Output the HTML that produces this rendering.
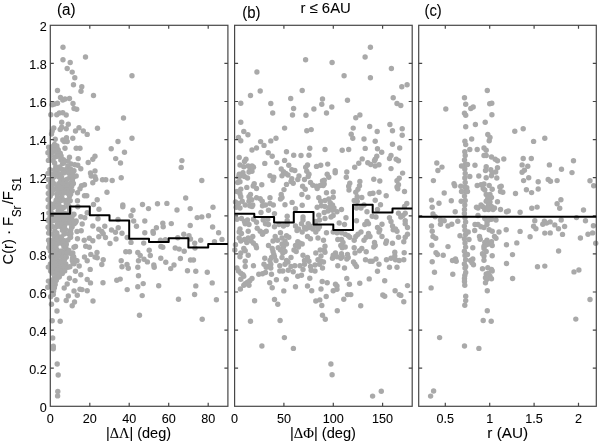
<!DOCTYPE html><html><head><meta charset="utf-8"><style>html,body{margin:0;padding:0;background:#fff;overflow:hidden;}svg{display:block;will-change:transform;}text{font-family:"Liberation Sans",sans-serif;fill:#000;stroke:#000;stroke-width:0.08px;}</style></head><body>
<svg width="600" height="443" viewBox="0 0 600 443">
<g fill="#a9a9a9">
<circle cx="63.0" cy="47.2" r="2.70"/>
<circle cx="63.0" cy="59.8" r="2.70"/>
<circle cx="85.5" cy="57.0" r="2.70"/>
<circle cx="70.2" cy="62.5" r="2.70"/>
<circle cx="67.2" cy="68.5" r="2.70"/>
<circle cx="72.2" cy="72.1" r="2.70"/>
<circle cx="74.8" cy="77.8" r="2.70"/>
<circle cx="132.0" cy="75.7" r="2.70"/>
<circle cx="73.5" cy="84.8" r="2.70"/>
<circle cx="81.8" cy="86.8" r="2.70"/>
<circle cx="57.5" cy="90.5" r="2.70"/>
<circle cx="81.0" cy="91.2" r="2.70"/>
<circle cx="93.5" cy="95.5" r="2.70"/>
<circle cx="60.5" cy="97.5" r="2.70"/>
<circle cx="65.0" cy="99.0" r="2.70"/>
<circle cx="69.5" cy="98.5" r="2.70"/>
<circle cx="62.8" cy="100.0" r="2.70"/>
<circle cx="52.2" cy="104.8" r="2.70"/>
<circle cx="54.5" cy="104.0" r="2.70"/>
<circle cx="57.5" cy="103.2" r="2.70"/>
<circle cx="73.0" cy="103.5" r="2.70"/>
<circle cx="74.0" cy="108.5" r="2.70"/>
<circle cx="76.7" cy="109.2" r="2.70"/>
<circle cx="50.8" cy="114.8" r="2.70"/>
<circle cx="56.8" cy="114.8" r="2.70"/>
<circle cx="59.3" cy="113.0" r="2.70"/>
<circle cx="62.8" cy="112.7" r="2.70"/>
<circle cx="66.2" cy="115.0" r="2.70"/>
<circle cx="123.5" cy="118.0" r="2.70"/>
<circle cx="61.7" cy="122.3" r="2.70"/>
<circle cx="68.3" cy="124.2" r="2.70"/>
<circle cx="53.8" cy="128.0" r="2.70"/>
<circle cx="52.2" cy="131.0" r="2.70"/>
<circle cx="51.5" cy="134.0" r="2.70"/>
<circle cx="60.2" cy="129.5" r="2.70"/>
<circle cx="61.7" cy="127.2" r="2.70"/>
<circle cx="66.2" cy="128.8" r="2.70"/>
<circle cx="79.0" cy="127.7" r="2.70"/>
<circle cx="75.5" cy="131.0" r="2.70"/>
<circle cx="83.3" cy="131.0" r="2.70"/>
<circle cx="87.2" cy="134.4" r="2.70"/>
<circle cx="97.5" cy="128.3" r="2.70"/>
<circle cx="55.2" cy="139.2" r="2.70"/>
<circle cx="62.8" cy="140.0" r="2.70"/>
<circle cx="66.5" cy="137.8" r="2.70"/>
<circle cx="64.2" cy="141.5" r="2.70"/>
<circle cx="67.2" cy="141.5" r="2.70"/>
<circle cx="72.8" cy="138.2" r="2.70"/>
<circle cx="118.0" cy="141.5" r="2.70"/>
<circle cx="132.0" cy="138.2" r="2.70"/>
<circle cx="54.5" cy="144.5" r="2.70"/>
<circle cx="65.0" cy="148.2" r="2.70"/>
<circle cx="76.2" cy="148.2" r="2.70"/>
<circle cx="80.0" cy="148.2" r="2.70"/>
<circle cx="111.2" cy="148.7" r="2.70"/>
<circle cx="124.5" cy="152.3" r="2.70"/>
<circle cx="69.5" cy="157.2" r="2.70"/>
<circle cx="78.2" cy="158.6" r="2.70"/>
<circle cx="95.0" cy="156.2" r="2.70"/>
<circle cx="92.8" cy="159.2" r="2.70"/>
<circle cx="88.2" cy="162.5" r="2.70"/>
<circle cx="115.7" cy="158.6" r="2.70"/>
<circle cx="120.5" cy="163.0" r="2.70"/>
<circle cx="68.0" cy="161.0" r="2.70"/>
<circle cx="71.0" cy="164.0" r="2.70"/>
<circle cx="74.8" cy="164.8" r="2.70"/>
<circle cx="77.8" cy="165.2" r="2.70"/>
<circle cx="80.8" cy="168.8" r="2.70"/>
<circle cx="74.0" cy="170.8" r="2.70"/>
<circle cx="95.0" cy="171.0" r="2.70"/>
<circle cx="90.5" cy="173.0" r="2.70"/>
<circle cx="91.2" cy="176.0" r="2.70"/>
<circle cx="95.0" cy="176.8" r="2.70"/>
<circle cx="95.8" cy="179.3" r="2.70"/>
<circle cx="92.8" cy="182.8" r="2.70"/>
<circle cx="76.2" cy="176.0" r="2.70"/>
<circle cx="102.5" cy="179.8" r="2.70"/>
<circle cx="105.8" cy="179.8" r="2.70"/>
<circle cx="112.2" cy="180.5" r="2.70"/>
<circle cx="121.2" cy="177.8" r="2.70"/>
<circle cx="84.5" cy="184.7" r="2.70"/>
<circle cx="81.5" cy="185.8" r="2.70"/>
<circle cx="80.0" cy="188.8" r="2.70"/>
<circle cx="77.5" cy="192.8" r="2.70"/>
<circle cx="107.0" cy="192.2" r="2.70"/>
<circle cx="84.5" cy="195.8" r="2.70"/>
<circle cx="86.8" cy="195.8" r="2.70"/>
<circle cx="97.2" cy="199.7" r="2.70"/>
<circle cx="77.5" cy="200.8" r="2.70"/>
<circle cx="70.2" cy="200.8" r="2.70"/>
<circle cx="93.5" cy="204.5" r="2.70"/>
<circle cx="122.8" cy="205.0" r="2.70"/>
<circle cx="77.8" cy="206.8" r="2.70"/>
<circle cx="99.0" cy="209.3" r="2.70"/>
<circle cx="122.8" cy="206.8" r="2.70"/>
<circle cx="133.0" cy="210.2" r="2.70"/>
<circle cx="87.2" cy="212.8" r="2.70"/>
<circle cx="74.0" cy="214.2" r="2.70"/>
<circle cx="71.0" cy="217.2" r="2.70"/>
<circle cx="80.8" cy="216.8" r="2.70"/>
<circle cx="84.8" cy="217.7" r="2.70"/>
<circle cx="76.2" cy="221.0" r="2.70"/>
<circle cx="75.5" cy="222.5" r="2.70"/>
<circle cx="82.2" cy="224.0" r="2.70"/>
<circle cx="98.0" cy="218.8" r="2.70"/>
<circle cx="118.0" cy="219.5" r="2.70"/>
<circle cx="131.0" cy="215.8" r="2.70"/>
<circle cx="133.7" cy="221.0" r="2.70"/>
<circle cx="136.5" cy="226.2" r="2.70"/>
<circle cx="92.8" cy="226.0" r="2.70"/>
<circle cx="104.8" cy="226.2" r="2.70"/>
<circle cx="98.8" cy="229.2" r="2.70"/>
<circle cx="101.8" cy="231.5" r="2.70"/>
<circle cx="103.2" cy="233.8" r="2.70"/>
<circle cx="111.5" cy="230.0" r="2.70"/>
<circle cx="115.5" cy="232.2" r="2.70"/>
<circle cx="118.2" cy="227.8" r="2.70"/>
<circle cx="122.0" cy="233.3" r="2.70"/>
<circle cx="81.2" cy="230.8" r="2.70"/>
<circle cx="77.0" cy="231.5" r="2.70"/>
<circle cx="77.5" cy="238.7" r="2.70"/>
<circle cx="84.2" cy="240.2" r="2.70"/>
<circle cx="89.3" cy="238.2" r="2.70"/>
<circle cx="92.8" cy="240.8" r="2.70"/>
<circle cx="98.8" cy="236.8" r="2.70"/>
<circle cx="105.5" cy="237.5" r="2.70"/>
<circle cx="116.0" cy="239.0" r="2.70"/>
<circle cx="127.2" cy="237.5" r="2.70"/>
<circle cx="131.0" cy="242.4" r="2.70"/>
<circle cx="110.0" cy="243.5" r="2.70"/>
<circle cx="74.0" cy="247.2" r="2.70"/>
<circle cx="75.5" cy="246.5" r="2.70"/>
<circle cx="85.7" cy="246.2" r="2.70"/>
<circle cx="89.3" cy="247.2" r="2.70"/>
<circle cx="125.8" cy="251.8" r="2.70"/>
<circle cx="129.5" cy="251.8" r="2.70"/>
<circle cx="137.8" cy="252.5" r="2.70"/>
<circle cx="97.0" cy="252.5" r="2.70"/>
<circle cx="90.8" cy="254.4" r="2.70"/>
<circle cx="95.0" cy="257.0" r="2.70"/>
<circle cx="97.2" cy="257.8" r="2.70"/>
<circle cx="84.5" cy="257.0" r="2.70"/>
<circle cx="87.2" cy="260.8" r="2.70"/>
<circle cx="72.5" cy="258.5" r="2.70"/>
<circle cx="74.0" cy="261.5" r="2.70"/>
<circle cx="103.2" cy="259.7" r="2.70"/>
<circle cx="121.2" cy="260.8" r="2.70"/>
<circle cx="138.5" cy="260.8" r="2.70"/>
<circle cx="127.0" cy="264.5" r="2.70"/>
<circle cx="181.9" cy="160.6" r="2.70"/>
<circle cx="181.2" cy="167.4" r="2.70"/>
<circle cx="201.8" cy="180.5" r="2.70"/>
<circle cx="185.7" cy="198.0" r="2.70"/>
<circle cx="142.5" cy="204.5" r="2.70"/>
<circle cx="157.5" cy="203.8" r="2.70"/>
<circle cx="166.9" cy="203.4" r="2.70"/>
<circle cx="148.5" cy="208.6" r="2.70"/>
<circle cx="177.0" cy="210.0" r="2.70"/>
<circle cx="190.2" cy="208.6" r="2.70"/>
<circle cx="213.0" cy="207.2" r="2.70"/>
<circle cx="197.2" cy="217.6" r="2.70"/>
<circle cx="201.8" cy="216.9" r="2.70"/>
<circle cx="208.5" cy="215.8" r="2.70"/>
<circle cx="144.8" cy="221.0" r="2.70"/>
<circle cx="162.8" cy="223.2" r="2.70"/>
<circle cx="163.2" cy="226.7" r="2.70"/>
<circle cx="171.3" cy="223.6" r="2.70"/>
<circle cx="156.4" cy="227.8" r="2.70"/>
<circle cx="190.2" cy="225.5" r="2.70"/>
<circle cx="212.6" cy="227.0" r="2.70"/>
<circle cx="153.0" cy="231.5" r="2.70"/>
<circle cx="153.3" cy="233.3" r="2.70"/>
<circle cx="144.8" cy="232.7" r="2.70"/>
<circle cx="218.6" cy="232.7" r="2.70"/>
<circle cx="183.8" cy="234.2" r="2.70"/>
<circle cx="189.0" cy="235.7" r="2.70"/>
<circle cx="190.5" cy="239.0" r="2.70"/>
<circle cx="177.8" cy="237.8" r="2.70"/>
<circle cx="160.5" cy="240.2" r="2.70"/>
<circle cx="165.4" cy="239.8" r="2.70"/>
<circle cx="200.7" cy="240.2" r="2.70"/>
<circle cx="222.0" cy="239.4" r="2.70"/>
<circle cx="214.5" cy="241.7" r="2.70"/>
<circle cx="194.7" cy="243.1" r="2.70"/>
<circle cx="143.7" cy="243.1" r="2.70"/>
<circle cx="160.9" cy="246.5" r="2.70"/>
<circle cx="162.8" cy="247.2" r="2.70"/>
<circle cx="175.2" cy="248.0" r="2.70"/>
<circle cx="179.2" cy="249.1" r="2.70"/>
<circle cx="184.2" cy="251.3" r="2.70"/>
<circle cx="195.0" cy="248.0" r="2.70"/>
<circle cx="149.2" cy="250.2" r="2.70"/>
<circle cx="140.2" cy="255.5" r="2.70"/>
<circle cx="150.3" cy="255.5" r="2.70"/>
<circle cx="144.0" cy="259.2" r="2.70"/>
<circle cx="147.4" cy="261.9" r="2.70"/>
<circle cx="160.8" cy="258.2" r="2.70"/>
<circle cx="180.4" cy="258.5" r="2.70"/>
<circle cx="165.8" cy="262.2" r="2.70"/>
<circle cx="190.5" cy="260.0" r="2.70"/>
<circle cx="193.5" cy="260.0" r="2.70"/>
<circle cx="174.0" cy="265.0" r="2.70"/>
<circle cx="153.8" cy="265.0" r="2.70"/>
<circle cx="77.0" cy="260.8" r="2.70"/>
<circle cx="79.2" cy="266.0" r="2.70"/>
<circle cx="75.5" cy="271.2" r="2.70"/>
<circle cx="80.8" cy="274.7" r="2.70"/>
<circle cx="101.8" cy="264.5" r="2.70"/>
<circle cx="90.2" cy="269.4" r="2.70"/>
<circle cx="122.0" cy="266.8" r="2.70"/>
<circle cx="128.3" cy="268.2" r="2.70"/>
<circle cx="137.8" cy="267.2" r="2.70"/>
<circle cx="138.5" cy="275.8" r="2.70"/>
<circle cx="69.5" cy="278.3" r="2.70"/>
<circle cx="75.0" cy="280.6" r="2.70"/>
<circle cx="87.2" cy="279.5" r="2.70"/>
<circle cx="90.5" cy="282.9" r="2.70"/>
<circle cx="103.0" cy="282.8" r="2.70"/>
<circle cx="116.8" cy="280.2" r="2.70"/>
<circle cx="120.2" cy="279.1" r="2.70"/>
<circle cx="67.2" cy="284.0" r="2.70"/>
<circle cx="64.2" cy="288.0" r="2.70"/>
<circle cx="137.8" cy="286.7" r="2.70"/>
<circle cx="127.2" cy="289.6" r="2.70"/>
<circle cx="74.0" cy="291.0" r="2.70"/>
<circle cx="80.0" cy="289.2" r="2.70"/>
<circle cx="82.0" cy="289.6" r="2.70"/>
<circle cx="87.2" cy="290.8" r="2.70"/>
<circle cx="77.3" cy="295.2" r="2.70"/>
<circle cx="68.3" cy="296.0" r="2.70"/>
<circle cx="56.8" cy="299.8" r="2.70"/>
<circle cx="66.2" cy="300.5" r="2.70"/>
<circle cx="74.5" cy="302.0" r="2.70"/>
<circle cx="72.2" cy="305.8" r="2.70"/>
<circle cx="93.0" cy="301.0" r="2.70"/>
<circle cx="51.5" cy="304.2" r="2.70"/>
<circle cx="57.0" cy="311.0" r="2.70"/>
<circle cx="52.2" cy="320.8" r="2.70"/>
<circle cx="60.2" cy="321.2" r="2.70"/>
<circle cx="139.5" cy="315.2" r="2.70"/>
<circle cx="154.2" cy="267.2" r="2.70"/>
<circle cx="170.7" cy="268.6" r="2.70"/>
<circle cx="187.5" cy="270.8" r="2.70"/>
<circle cx="195.8" cy="271.2" r="2.70"/>
<circle cx="207.3" cy="272.3" r="2.70"/>
<circle cx="143.2" cy="283.6" r="2.70"/>
<circle cx="158.7" cy="285.8" r="2.70"/>
<circle cx="195.8" cy="285.9" r="2.70"/>
<circle cx="212.2" cy="282.9" r="2.70"/>
<circle cx="142.2" cy="295.6" r="2.70"/>
<circle cx="194.6" cy="294.5" r="2.70"/>
<circle cx="178.5" cy="299.3" r="2.70"/>
<circle cx="216.4" cy="299.8" r="2.70"/>
<circle cx="202.2" cy="319.2" r="2.70"/>
<circle cx="52.7" cy="338.0" r="2.70"/>
<circle cx="53.3" cy="346.2" r="2.70"/>
<circle cx="53.3" cy="348.8" r="2.70"/>
<circle cx="57.2" cy="364.0" r="2.70"/>
<circle cx="58.2" cy="375.0" r="2.70"/>
<circle cx="57.8" cy="391.4" r="2.70"/>
<circle cx="57.6" cy="395.9" r="2.70"/>
<circle cx="305.6" cy="59.8" r="2.70"/>
<circle cx="256.9" cy="72.0" r="2.70"/>
<circle cx="370.4" cy="47.2" r="2.70"/>
<circle cx="365.1" cy="57.0" r="2.70"/>
<circle cx="332.1" cy="62.5" r="2.70"/>
<circle cx="391.4" cy="68.5" r="2.70"/>
<circle cx="344.1" cy="75.7" r="2.70"/>
<circle cx="370.4" cy="77.8" r="2.70"/>
<circle cx="401.8" cy="86.8" r="2.70"/>
<circle cx="407.1" cy="84.7" r="2.70"/>
<circle cx="260.2" cy="91.0" r="2.70"/>
<circle cx="302.2" cy="90.5" r="2.70"/>
<circle cx="250.5" cy="95.5" r="2.70"/>
<circle cx="240.8" cy="103.3" r="2.70"/>
<circle cx="270.8" cy="103.5" r="2.70"/>
<circle cx="290.7" cy="98.5" r="2.70"/>
<circle cx="322.5" cy="99.0" r="2.70"/>
<circle cx="321.8" cy="104.2" r="2.70"/>
<circle cx="293.6" cy="108.5" r="2.70"/>
<circle cx="313.9" cy="109.0" r="2.70"/>
<circle cx="272.7" cy="113.0" r="2.70"/>
<circle cx="292.5" cy="115.0" r="2.70"/>
<circle cx="306.0" cy="115.3" r="2.70"/>
<circle cx="240.8" cy="122.2" r="2.70"/>
<circle cx="284.6" cy="128.1" r="2.70"/>
<circle cx="306.8" cy="130.8" r="2.70"/>
<circle cx="311.2" cy="129.6" r="2.70"/>
<circle cx="243.8" cy="131.5" r="2.70"/>
<circle cx="247.9" cy="134.8" r="2.70"/>
<circle cx="238.5" cy="137.5" r="2.70"/>
<circle cx="240.8" cy="140.8" r="2.70"/>
<circle cx="276.0" cy="138.2" r="2.70"/>
<circle cx="270.8" cy="140.9" r="2.70"/>
<circle cx="260.6" cy="141.6" r="2.70"/>
<circle cx="264.0" cy="145.4" r="2.70"/>
<circle cx="256.5" cy="148.0" r="2.70"/>
<circle cx="252.0" cy="150.0" r="2.70"/>
<circle cx="309.8" cy="148.3" r="2.70"/>
<circle cx="347.5" cy="100.3" r="2.70"/>
<circle cx="393.2" cy="97.8" r="2.70"/>
<circle cx="397.0" cy="103.5" r="2.70"/>
<circle cx="400.8" cy="105.5" r="2.70"/>
<circle cx="331.8" cy="107.0" r="2.70"/>
<circle cx="326.5" cy="113.0" r="2.70"/>
<circle cx="355.8" cy="117.7" r="2.70"/>
<circle cx="359.9" cy="115.0" r="2.70"/>
<circle cx="353.2" cy="128.1" r="2.70"/>
<circle cx="369.7" cy="126.5" r="2.70"/>
<circle cx="389.9" cy="124.5" r="2.70"/>
<circle cx="392.5" cy="130.8" r="2.70"/>
<circle cx="402.2" cy="128.8" r="2.70"/>
<circle cx="377.2" cy="131.5" r="2.70"/>
<circle cx="351.2" cy="134.2" r="2.70"/>
<circle cx="352.8" cy="138.2" r="2.70"/>
<circle cx="364.0" cy="139.0" r="2.70"/>
<circle cx="375.2" cy="141.2" r="2.70"/>
<circle cx="402.2" cy="135.2" r="2.70"/>
<circle cx="392.5" cy="144.2" r="2.70"/>
<circle cx="325.0" cy="149.5" r="2.70"/>
<circle cx="342.2" cy="150.2" r="2.70"/>
<circle cx="348.7" cy="149.5" r="2.70"/>
<circle cx="365.2" cy="148.4" r="2.70"/>
<circle cx="377.5" cy="148.8" r="2.70"/>
<circle cx="399.7" cy="148.0" r="2.70"/>
<circle cx="286.5" cy="151.8" r="2.70"/>
<circle cx="268.2" cy="152.8" r="2.70"/>
<circle cx="272.2" cy="156.2" r="2.70"/>
<circle cx="293.7" cy="155.2" r="2.70"/>
<circle cx="301.0" cy="155.5" r="2.70"/>
<circle cx="309.0" cy="155.2" r="2.70"/>
<circle cx="239.2" cy="157.4" r="2.70"/>
<circle cx="246.0" cy="159.2" r="2.70"/>
<circle cx="244.5" cy="161.5" r="2.70"/>
<circle cx="264.8" cy="163.4" r="2.70"/>
<circle cx="276.8" cy="162.6" r="2.70"/>
<circle cx="284.6" cy="160.4" r="2.70"/>
<circle cx="288.8" cy="165.2" r="2.70"/>
<circle cx="240.0" cy="165.0" r="2.70"/>
<circle cx="243.8" cy="166.8" r="2.70"/>
<circle cx="248.2" cy="166.0" r="2.70"/>
<circle cx="252.0" cy="166.0" r="2.70"/>
<circle cx="253.5" cy="167.2" r="2.70"/>
<circle cx="250.2" cy="169.8" r="2.70"/>
<circle cx="252.0" cy="171.2" r="2.70"/>
<circle cx="249.0" cy="172.0" r="2.70"/>
<circle cx="307.5" cy="165.0" r="2.70"/>
<circle cx="305.7" cy="167.2" r="2.70"/>
<circle cx="306.8" cy="171.2" r="2.70"/>
<circle cx="316.5" cy="166.4" r="2.70"/>
<circle cx="320.7" cy="165.2" r="2.70"/>
<circle cx="281.2" cy="169.0" r="2.70"/>
<circle cx="283.5" cy="171.7" r="2.70"/>
<circle cx="285.8" cy="173.5" r="2.70"/>
<circle cx="291.8" cy="169.8" r="2.70"/>
<circle cx="294.8" cy="170.5" r="2.70"/>
<circle cx="243.0" cy="172.8" r="2.70"/>
<circle cx="239.2" cy="174.2" r="2.70"/>
<circle cx="238.5" cy="177.2" r="2.70"/>
<circle cx="241.2" cy="175.8" r="2.70"/>
<circle cx="244.5" cy="176.5" r="2.70"/>
<circle cx="247.5" cy="178.0" r="2.70"/>
<circle cx="282.0" cy="175.8" r="2.70"/>
<circle cx="288.0" cy="175.0" r="2.70"/>
<circle cx="270.0" cy="175.8" r="2.70"/>
<circle cx="273.8" cy="177.2" r="2.70"/>
<circle cx="273.0" cy="180.2" r="2.70"/>
<circle cx="299.0" cy="176.0" r="2.70"/>
<circle cx="297.8" cy="179.5" r="2.70"/>
<circle cx="309.0" cy="174.2" r="2.70"/>
<circle cx="308.2" cy="176.5" r="2.70"/>
<circle cx="304.5" cy="179.5" r="2.70"/>
<circle cx="291.8" cy="178.8" r="2.70"/>
<circle cx="291.0" cy="181.4" r="2.70"/>
<circle cx="293.2" cy="183.2" r="2.70"/>
<circle cx="240.0" cy="181.8" r="2.70"/>
<circle cx="237.8" cy="182.5" r="2.70"/>
<circle cx="322.5" cy="181.0" r="2.70"/>
<circle cx="323.2" cy="185.5" r="2.70"/>
<circle cx="310.5" cy="182.5" r="2.70"/>
<circle cx="312.8" cy="185.2" r="2.70"/>
<circle cx="316.5" cy="186.2" r="2.70"/>
<circle cx="320.2" cy="185.5" r="2.70"/>
<circle cx="317.2" cy="188.5" r="2.70"/>
<circle cx="254.2" cy="183.7" r="2.70"/>
<circle cx="253.2" cy="186.0" r="2.70"/>
<circle cx="256.5" cy="188.5" r="2.70"/>
<circle cx="261.8" cy="184.8" r="2.70"/>
<circle cx="286.5" cy="184.4" r="2.70"/>
<circle cx="246.8" cy="187.4" r="2.70"/>
<circle cx="302.6" cy="186.2" r="2.70"/>
<circle cx="305.2" cy="189.2" r="2.70"/>
<circle cx="240.8" cy="189.2" r="2.70"/>
<circle cx="237.0" cy="191.5" r="2.70"/>
<circle cx="240.0" cy="193.8" r="2.70"/>
<circle cx="240.8" cy="196.8" r="2.70"/>
<circle cx="284.0" cy="189.6" r="2.70"/>
<circle cx="250.5" cy="194.5" r="2.70"/>
<circle cx="249.0" cy="196.8" r="2.70"/>
<circle cx="249.0" cy="201.2" r="2.70"/>
<circle cx="251.7" cy="199.8" r="2.70"/>
<circle cx="281.2" cy="194.5" r="2.70"/>
<circle cx="282.0" cy="197.5" r="2.70"/>
<circle cx="280.5" cy="199.0" r="2.70"/>
<circle cx="301.9" cy="194.5" r="2.70"/>
<circle cx="307.9" cy="197.2" r="2.70"/>
<circle cx="256.5" cy="197.8" r="2.70"/>
<circle cx="260.2" cy="198.7" r="2.70"/>
<circle cx="262.2" cy="201.2" r="2.70"/>
<circle cx="270.0" cy="197.8" r="2.70"/>
<circle cx="318.8" cy="197.8" r="2.70"/>
<circle cx="320.7" cy="201.2" r="2.70"/>
<circle cx="235.5" cy="202.0" r="2.70"/>
<circle cx="238.5" cy="203.5" r="2.70"/>
<circle cx="242.2" cy="201.2" r="2.70"/>
<circle cx="245.2" cy="205.0" r="2.70"/>
<circle cx="236.2" cy="207.2" r="2.70"/>
<circle cx="240.0" cy="208.0" r="2.70"/>
<circle cx="252.0" cy="206.5" r="2.70"/>
<circle cx="249.8" cy="205.8" r="2.70"/>
<circle cx="262.5" cy="205.8" r="2.70"/>
<circle cx="265.5" cy="205.0" r="2.70"/>
<circle cx="270.0" cy="203.5" r="2.70"/>
<circle cx="273.3" cy="205.0" r="2.70"/>
<circle cx="292.1" cy="202.4" r="2.70"/>
<circle cx="285.0" cy="204.7" r="2.70"/>
<circle cx="302.2" cy="205.3" r="2.70"/>
<circle cx="317.2" cy="207.2" r="2.70"/>
<circle cx="321.4" cy="205.8" r="2.70"/>
<circle cx="295.5" cy="208.8" r="2.70"/>
<circle cx="381.7" cy="152.2" r="2.70"/>
<circle cx="376.8" cy="156.2" r="2.70"/>
<circle cx="375.2" cy="159.2" r="2.70"/>
<circle cx="374.5" cy="160.8" r="2.70"/>
<circle cx="391.0" cy="155.5" r="2.70"/>
<circle cx="389.5" cy="158.5" r="2.70"/>
<circle cx="396.2" cy="159.2" r="2.70"/>
<circle cx="398.5" cy="160.8" r="2.70"/>
<circle cx="362.2" cy="158.9" r="2.70"/>
<circle cx="358.8" cy="163.3" r="2.70"/>
<circle cx="354.7" cy="167.2" r="2.70"/>
<circle cx="367.8" cy="162.7" r="2.70"/>
<circle cx="370.8" cy="164.5" r="2.70"/>
<circle cx="375.2" cy="166.0" r="2.70"/>
<circle cx="379.0" cy="164.8" r="2.70"/>
<circle cx="327.7" cy="164.1" r="2.70"/>
<circle cx="391.0" cy="168.6" r="2.70"/>
<circle cx="335.2" cy="170.8" r="2.70"/>
<circle cx="335.2" cy="172.8" r="2.70"/>
<circle cx="346.8" cy="172.0" r="2.70"/>
<circle cx="402.6" cy="173.1" r="2.70"/>
<circle cx="327.2" cy="174.2" r="2.70"/>
<circle cx="328.8" cy="177.2" r="2.70"/>
<circle cx="324.2" cy="180.2" r="2.70"/>
<circle cx="324.2" cy="184.0" r="2.70"/>
<circle cx="346.3" cy="177.2" r="2.70"/>
<circle cx="373.8" cy="179.2" r="2.70"/>
<circle cx="379.8" cy="181.0" r="2.70"/>
<circle cx="359.9" cy="181.4" r="2.70"/>
<circle cx="399.2" cy="178.3" r="2.70"/>
<circle cx="397.0" cy="180.7" r="2.70"/>
<circle cx="398.5" cy="184.8" r="2.70"/>
<circle cx="397.0" cy="187.0" r="2.70"/>
<circle cx="397.8" cy="188.8" r="2.70"/>
<circle cx="349.8" cy="183.2" r="2.70"/>
<circle cx="348.7" cy="186.2" r="2.70"/>
<circle cx="349.0" cy="190.0" r="2.70"/>
<circle cx="359.5" cy="185.8" r="2.70"/>
<circle cx="358.0" cy="189.2" r="2.70"/>
<circle cx="355.8" cy="192.2" r="2.70"/>
<circle cx="404.5" cy="191.5" r="2.70"/>
<circle cx="326.5" cy="192.7" r="2.70"/>
<circle cx="333.2" cy="191.9" r="2.70"/>
<circle cx="333.2" cy="197.2" r="2.70"/>
<circle cx="370.0" cy="193.8" r="2.70"/>
<circle cx="373.0" cy="193.3" r="2.70"/>
<circle cx="379.0" cy="192.2" r="2.70"/>
<circle cx="386.2" cy="195.7" r="2.70"/>
<circle cx="357.2" cy="196.8" r="2.70"/>
<circle cx="361.8" cy="197.5" r="2.70"/>
<circle cx="325.0" cy="200.5" r="2.70"/>
<circle cx="328.8" cy="199.0" r="2.70"/>
<circle cx="330.2" cy="202.8" r="2.70"/>
<circle cx="332.5" cy="205.0" r="2.70"/>
<circle cx="329.5" cy="207.2" r="2.70"/>
<circle cx="334.0" cy="208.0" r="2.70"/>
<circle cx="354.2" cy="200.5" r="2.70"/>
<circle cx="357.2" cy="201.2" r="2.70"/>
<circle cx="375.2" cy="200.2" r="2.70"/>
<circle cx="380.5" cy="204.7" r="2.70"/>
<circle cx="406.8" cy="203.5" r="2.70"/>
<circle cx="404.5" cy="206.5" r="2.70"/>
<circle cx="341.5" cy="209.5" r="2.70"/>
<circle cx="356.5" cy="208.0" r="2.70"/>
<circle cx="377.5" cy="209.5" r="2.70"/>
<circle cx="252.8" cy="205.0" r="2.70"/>
<circle cx="268.5" cy="210.2" r="2.70"/>
<circle cx="261.0" cy="212.5" r="2.70"/>
<circle cx="274.5" cy="213.6" r="2.70"/>
<circle cx="318.8" cy="215.2" r="2.70"/>
<circle cx="287.2" cy="216.2" r="2.70"/>
<circle cx="237.0" cy="219.2" r="2.70"/>
<circle cx="241.5" cy="218.5" r="2.70"/>
<circle cx="244.5" cy="221.5" r="2.70"/>
<circle cx="247.5" cy="220.0" r="2.70"/>
<circle cx="249.0" cy="224.5" r="2.70"/>
<circle cx="245.2" cy="223.8" r="2.70"/>
<circle cx="253.5" cy="219.2" r="2.70"/>
<circle cx="256.5" cy="222.2" r="2.70"/>
<circle cx="263.2" cy="220.0" r="2.70"/>
<circle cx="267.8" cy="219.2" r="2.70"/>
<circle cx="265.5" cy="223.8" r="2.70"/>
<circle cx="268.5" cy="224.5" r="2.70"/>
<circle cx="279.0" cy="224.5" r="2.70"/>
<circle cx="283.5" cy="226.0" r="2.70"/>
<circle cx="287.2" cy="220.8" r="2.70"/>
<circle cx="287.2" cy="224.5" r="2.70"/>
<circle cx="303.0" cy="217.0" r="2.70"/>
<circle cx="303.0" cy="220.0" r="2.70"/>
<circle cx="301.5" cy="223.8" r="2.70"/>
<circle cx="304.5" cy="227.5" r="2.70"/>
<circle cx="295.5" cy="226.0" r="2.70"/>
<circle cx="298.5" cy="229.0" r="2.70"/>
<circle cx="308.2" cy="223.8" r="2.70"/>
<circle cx="309.8" cy="226.0" r="2.70"/>
<circle cx="315.8" cy="221.5" r="2.70"/>
<circle cx="319.5" cy="220.0" r="2.70"/>
<circle cx="315.0" cy="226.0" r="2.70"/>
<circle cx="240.0" cy="229.0" r="2.70"/>
<circle cx="239.2" cy="232.0" r="2.70"/>
<circle cx="241.5" cy="233.5" r="2.70"/>
<circle cx="248.2" cy="231.2" r="2.70"/>
<circle cx="257.2" cy="228.2" r="2.70"/>
<circle cx="260.2" cy="231.2" r="2.70"/>
<circle cx="263.2" cy="232.8" r="2.70"/>
<circle cx="262.5" cy="234.2" r="2.70"/>
<circle cx="266.2" cy="231.2" r="2.70"/>
<circle cx="274.5" cy="226.8" r="2.70"/>
<circle cx="280.5" cy="232.8" r="2.70"/>
<circle cx="297.0" cy="230.5" r="2.70"/>
<circle cx="302.2" cy="232.0" r="2.70"/>
<circle cx="306.0" cy="229.0" r="2.70"/>
<circle cx="309.0" cy="227.5" r="2.70"/>
<circle cx="312.8" cy="229.0" r="2.70"/>
<circle cx="315.8" cy="232.0" r="2.70"/>
<circle cx="318.0" cy="229.0" r="2.70"/>
<circle cx="319.5" cy="226.8" r="2.70"/>
<circle cx="239.2" cy="238.0" r="2.70"/>
<circle cx="240.8" cy="241.0" r="2.70"/>
<circle cx="244.5" cy="239.5" r="2.70"/>
<circle cx="246.8" cy="242.5" r="2.70"/>
<circle cx="248.2" cy="238.0" r="2.70"/>
<circle cx="252.8" cy="236.5" r="2.70"/>
<circle cx="251.2" cy="241.0" r="2.70"/>
<circle cx="253.5" cy="243.2" r="2.70"/>
<circle cx="255.8" cy="245.5" r="2.70"/>
<circle cx="256.5" cy="247.8" r="2.70"/>
<circle cx="275.2" cy="236.5" r="2.70"/>
<circle cx="273.0" cy="241.0" r="2.70"/>
<circle cx="277.5" cy="240.2" r="2.70"/>
<circle cx="282.0" cy="238.0" r="2.70"/>
<circle cx="286.5" cy="235.8" r="2.70"/>
<circle cx="288.8" cy="237.2" r="2.70"/>
<circle cx="285.0" cy="241.0" r="2.70"/>
<circle cx="286.5" cy="244.0" r="2.70"/>
<circle cx="282.0" cy="244.0" r="2.70"/>
<circle cx="283.5" cy="247.0" r="2.70"/>
<circle cx="297.8" cy="241.8" r="2.70"/>
<circle cx="300.0" cy="243.2" r="2.70"/>
<circle cx="302.2" cy="244.0" r="2.70"/>
<circle cx="295.5" cy="245.5" r="2.70"/>
<circle cx="298.5" cy="247.0" r="2.70"/>
<circle cx="294.0" cy="250.0" r="2.70"/>
<circle cx="296.2" cy="251.5" r="2.70"/>
<circle cx="307.5" cy="236.5" r="2.70"/>
<circle cx="310.5" cy="238.8" r="2.70"/>
<circle cx="318.0" cy="238.0" r="2.70"/>
<circle cx="268.5" cy="245.5" r="2.70"/>
<circle cx="243.8" cy="248.5" r="2.70"/>
<circle cx="245.2" cy="250.8" r="2.70"/>
<circle cx="240.8" cy="253.0" r="2.70"/>
<circle cx="240.0" cy="256.8" r="2.70"/>
<circle cx="248.2" cy="255.2" r="2.70"/>
<circle cx="235.5" cy="244.8" r="2.70"/>
<circle cx="234.8" cy="250.0" r="2.70"/>
<circle cx="272.2" cy="248.5" r="2.70"/>
<circle cx="273.0" cy="251.5" r="2.70"/>
<circle cx="273.8" cy="254.5" r="2.70"/>
<circle cx="271.5" cy="257.5" r="2.70"/>
<circle cx="270.0" cy="260.5" r="2.70"/>
<circle cx="274.5" cy="256.8" r="2.70"/>
<circle cx="276.0" cy="260.5" r="2.70"/>
<circle cx="278.2" cy="247.8" r="2.70"/>
<circle cx="280.5" cy="250.0" r="2.70"/>
<circle cx="282.8" cy="253.0" r="2.70"/>
<circle cx="285.0" cy="251.5" r="2.70"/>
<circle cx="282.0" cy="257.5" r="2.70"/>
<circle cx="286.5" cy="260.5" r="2.70"/>
<circle cx="291.0" cy="257.5" r="2.70"/>
<circle cx="303.0" cy="255.2" r="2.70"/>
<circle cx="307.5" cy="257.5" r="2.70"/>
<circle cx="304.5" cy="260.5" r="2.70"/>
<circle cx="309.0" cy="261.2" r="2.70"/>
<circle cx="315.8" cy="253.0" r="2.70"/>
<circle cx="320.2" cy="250.0" r="2.70"/>
<circle cx="321.0" cy="256.0" r="2.70"/>
<circle cx="318.0" cy="259.8" r="2.70"/>
<circle cx="321.0" cy="261.2" r="2.70"/>
<circle cx="264.8" cy="258.2" r="2.70"/>
<circle cx="245.2" cy="261.2" r="2.70"/>
<circle cx="253.5" cy="265.8" r="2.70"/>
<circle cx="245.2" cy="266.5" r="2.70"/>
<circle cx="237.0" cy="268.0" r="2.70"/>
<circle cx="264.0" cy="264.2" r="2.70"/>
<circle cx="267.8" cy="266.5" r="2.70"/>
<circle cx="270.8" cy="264.2" r="2.70"/>
<circle cx="279.8" cy="265.8" r="2.70"/>
<circle cx="285.0" cy="264.2" r="2.70"/>
<circle cx="288.0" cy="262.0" r="2.70"/>
<circle cx="291.0" cy="266.5" r="2.70"/>
<circle cx="294.8" cy="265.8" r="2.70"/>
<circle cx="300.0" cy="265.8" r="2.70"/>
<circle cx="304.5" cy="264.2" r="2.70"/>
<circle cx="310.5" cy="266.5" r="2.70"/>
<circle cx="315.0" cy="265.0" r="2.70"/>
<circle cx="319.5" cy="264.2" r="2.70"/>
<circle cx="325.0" cy="206.5" r="2.70"/>
<circle cx="328.0" cy="211.0" r="2.70"/>
<circle cx="332.5" cy="210.2" r="2.70"/>
<circle cx="337.0" cy="211.8" r="2.70"/>
<circle cx="333.2" cy="215.5" r="2.70"/>
<circle cx="331.0" cy="217.0" r="2.70"/>
<circle cx="324.2" cy="212.5" r="2.70"/>
<circle cx="325.0" cy="218.5" r="2.70"/>
<circle cx="346.0" cy="217.8" r="2.70"/>
<circle cx="339.2" cy="223.0" r="2.70"/>
<circle cx="344.5" cy="224.5" r="2.70"/>
<circle cx="361.0" cy="208.0" r="2.70"/>
<circle cx="364.0" cy="205.0" r="2.70"/>
<circle cx="367.0" cy="211.8" r="2.70"/>
<circle cx="356.5" cy="220.8" r="2.70"/>
<circle cx="367.0" cy="221.5" r="2.70"/>
<circle cx="364.8" cy="224.5" r="2.70"/>
<circle cx="368.5" cy="223.8" r="2.70"/>
<circle cx="372.2" cy="216.2" r="2.70"/>
<circle cx="376.0" cy="217.0" r="2.70"/>
<circle cx="382.0" cy="224.2" r="2.70"/>
<circle cx="377.5" cy="227.5" r="2.70"/>
<circle cx="379.8" cy="229.8" r="2.70"/>
<circle cx="379.0" cy="232.0" r="2.70"/>
<circle cx="389.5" cy="217.8" r="2.70"/>
<circle cx="391.0" cy="221.5" r="2.70"/>
<circle cx="392.5" cy="226.0" r="2.70"/>
<circle cx="393.2" cy="229.8" r="2.70"/>
<circle cx="395.5" cy="229.0" r="2.70"/>
<circle cx="398.5" cy="213.2" r="2.70"/>
<circle cx="403.0" cy="215.5" r="2.70"/>
<circle cx="405.2" cy="213.2" r="2.70"/>
<circle cx="405.2" cy="220.8" r="2.70"/>
<circle cx="405.2" cy="223.8" r="2.70"/>
<circle cx="407.5" cy="227.5" r="2.70"/>
<circle cx="397.0" cy="231.2" r="2.70"/>
<circle cx="400.8" cy="217.0" r="2.70"/>
<circle cx="326.5" cy="232.8" r="2.70"/>
<circle cx="333.2" cy="232.0" r="2.70"/>
<circle cx="337.0" cy="232.8" r="2.70"/>
<circle cx="341.5" cy="232.8" r="2.70"/>
<circle cx="345.2" cy="234.2" r="2.70"/>
<circle cx="348.2" cy="235.8" r="2.70"/>
<circle cx="349.8" cy="237.2" r="2.70"/>
<circle cx="323.5" cy="240.2" r="2.70"/>
<circle cx="337.8" cy="239.5" r="2.70"/>
<circle cx="341.5" cy="239.5" r="2.70"/>
<circle cx="343.0" cy="242.5" r="2.70"/>
<circle cx="340.8" cy="245.5" r="2.70"/>
<circle cx="342.2" cy="247.8" r="2.70"/>
<circle cx="345.2" cy="247.0" r="2.70"/>
<circle cx="354.2" cy="240.2" r="2.70"/>
<circle cx="355.8" cy="236.5" r="2.70"/>
<circle cx="358.0" cy="234.2" r="2.70"/>
<circle cx="361.0" cy="232.0" r="2.70"/>
<circle cx="364.0" cy="240.2" r="2.70"/>
<circle cx="366.2" cy="237.2" r="2.70"/>
<circle cx="368.5" cy="233.5" r="2.70"/>
<circle cx="370.0" cy="236.5" r="2.70"/>
<circle cx="374.5" cy="242.5" r="2.70"/>
<circle cx="375.2" cy="245.5" r="2.70"/>
<circle cx="373.8" cy="247.0" r="2.70"/>
<circle cx="382.0" cy="236.5" r="2.70"/>
<circle cx="386.5" cy="241.0" r="2.70"/>
<circle cx="385.8" cy="243.2" r="2.70"/>
<circle cx="392.5" cy="243.2" r="2.70"/>
<circle cx="398.5" cy="237.2" r="2.70"/>
<circle cx="403.8" cy="241.8" r="2.70"/>
<circle cx="405.2" cy="237.2" r="2.70"/>
<circle cx="407.5" cy="234.2" r="2.70"/>
<circle cx="325.0" cy="246.2" r="2.70"/>
<circle cx="324.2" cy="250.0" r="2.70"/>
<circle cx="354.2" cy="247.8" r="2.70"/>
<circle cx="361.8" cy="248.5" r="2.70"/>
<circle cx="359.5" cy="250.8" r="2.70"/>
<circle cx="366.2" cy="251.8" r="2.70"/>
<circle cx="394.8" cy="252.2" r="2.70"/>
<circle cx="404.2" cy="252.7" r="2.70"/>
<circle cx="335.5" cy="253.0" r="2.70"/>
<circle cx="333.2" cy="255.2" r="2.70"/>
<circle cx="332.5" cy="258.2" r="2.70"/>
<circle cx="337.0" cy="256.8" r="2.70"/>
<circle cx="341.5" cy="253.8" r="2.70"/>
<circle cx="342.2" cy="256.8" r="2.70"/>
<circle cx="340.8" cy="258.2" r="2.70"/>
<circle cx="347.5" cy="254.5" r="2.70"/>
<circle cx="348.2" cy="257.5" r="2.70"/>
<circle cx="346.8" cy="259.0" r="2.70"/>
<circle cx="325.0" cy="252.2" r="2.70"/>
<circle cx="323.5" cy="262.0" r="2.70"/>
<circle cx="355.0" cy="253.0" r="2.70"/>
<circle cx="365.5" cy="259.8" r="2.70"/>
<circle cx="370.0" cy="261.2" r="2.70"/>
<circle cx="372.2" cy="261.2" r="2.70"/>
<circle cx="376.0" cy="259.0" r="2.70"/>
<circle cx="353.5" cy="262.0" r="2.70"/>
<circle cx="355.0" cy="264.2" r="2.70"/>
<circle cx="356.5" cy="266.5" r="2.70"/>
<circle cx="337.8" cy="265.8" r="2.70"/>
<circle cx="344.5" cy="268.0" r="2.70"/>
<circle cx="379.0" cy="264.2" r="2.70"/>
<circle cx="386.5" cy="259.8" r="2.70"/>
<circle cx="391.0" cy="258.2" r="2.70"/>
<circle cx="394.8" cy="256.0" r="2.70"/>
<circle cx="395.5" cy="259.8" r="2.70"/>
<circle cx="399.2" cy="260.5" r="2.70"/>
<circle cx="403.8" cy="259.8" r="2.70"/>
<circle cx="389.5" cy="267.2" r="2.70"/>
<circle cx="397.0" cy="267.2" r="2.70"/>
<circle cx="266.2" cy="267.2" r="2.70"/>
<circle cx="270.8" cy="268.0" r="2.70"/>
<circle cx="279.8" cy="271.0" r="2.70"/>
<circle cx="282.8" cy="271.0" r="2.70"/>
<circle cx="288.3" cy="270.2" r="2.70"/>
<circle cx="293.2" cy="271.8" r="2.70"/>
<circle cx="303.0" cy="269.5" r="2.70"/>
<circle cx="311.2" cy="270.2" r="2.70"/>
<circle cx="315.0" cy="271.0" r="2.70"/>
<circle cx="322.5" cy="268.0" r="2.70"/>
<circle cx="238.5" cy="271.0" r="2.70"/>
<circle cx="240.8" cy="273.2" r="2.70"/>
<circle cx="243.0" cy="274.8" r="2.70"/>
<circle cx="243.8" cy="276.2" r="2.70"/>
<circle cx="258.8" cy="274.3" r="2.70"/>
<circle cx="262.5" cy="273.7" r="2.70"/>
<circle cx="265.5" cy="272.5" r="2.70"/>
<circle cx="271.5" cy="274.3" r="2.70"/>
<circle cx="297.8" cy="276.2" r="2.70"/>
<circle cx="301.5" cy="275.2" r="2.70"/>
<circle cx="240.8" cy="279.2" r="2.70"/>
<circle cx="252.0" cy="278.5" r="2.70"/>
<circle cx="249.8" cy="280.8" r="2.70"/>
<circle cx="247.5" cy="282.2" r="2.70"/>
<circle cx="245.2" cy="283.8" r="2.70"/>
<circle cx="243.8" cy="285.2" r="2.70"/>
<circle cx="249.0" cy="285.2" r="2.70"/>
<circle cx="276.4" cy="279.7" r="2.70"/>
<circle cx="286.2" cy="279.2" r="2.70"/>
<circle cx="309.8" cy="278.2" r="2.70"/>
<circle cx="322.2" cy="281.5" r="2.70"/>
<circle cx="269.7" cy="282.7" r="2.70"/>
<circle cx="272.2" cy="287.8" r="2.70"/>
<circle cx="295.5" cy="286.8" r="2.70"/>
<circle cx="307.5" cy="286.0" r="2.70"/>
<circle cx="311.7" cy="290.8" r="2.70"/>
<circle cx="321.0" cy="289.0" r="2.70"/>
<circle cx="240.4" cy="289.0" r="2.70"/>
<circle cx="283.8" cy="290.9" r="2.70"/>
<circle cx="254.6" cy="300.7" r="2.70"/>
<circle cx="274.5" cy="299.5" r="2.70"/>
<circle cx="277.8" cy="304.3" r="2.70"/>
<circle cx="315.8" cy="301.0" r="2.70"/>
<circle cx="319.8" cy="299.9" r="2.70"/>
<circle cx="321.8" cy="305.5" r="2.70"/>
<circle cx="322.5" cy="315.2" r="2.70"/>
<circle cx="250.5" cy="321.2" r="2.70"/>
<circle cx="280.1" cy="320.5" r="2.70"/>
<circle cx="377.5" cy="271.3" r="2.70"/>
<circle cx="346.8" cy="278.5" r="2.70"/>
<circle cx="369.2" cy="278.9" r="2.70"/>
<circle cx="384.7" cy="280.8" r="2.70"/>
<circle cx="327.2" cy="282.7" r="2.70"/>
<circle cx="335.5" cy="284.2" r="2.70"/>
<circle cx="337.0" cy="286.0" r="2.70"/>
<circle cx="337.0" cy="289.3" r="2.70"/>
<circle cx="333.2" cy="290.8" r="2.70"/>
<circle cx="349.4" cy="284.2" r="2.70"/>
<circle cx="359.8" cy="283.3" r="2.70"/>
<circle cx="407.5" cy="285.6" r="2.70"/>
<circle cx="395.1" cy="290.8" r="2.70"/>
<circle cx="326.2" cy="296.5" r="2.70"/>
<circle cx="347.5" cy="294.6" r="2.70"/>
<circle cx="350.8" cy="294.6" r="2.70"/>
<circle cx="382.8" cy="295.0" r="2.70"/>
<circle cx="384.7" cy="296.2" r="2.70"/>
<circle cx="399.2" cy="294.6" r="2.70"/>
<circle cx="400.8" cy="295.4" r="2.70"/>
<circle cx="343.8" cy="299.2" r="2.70"/>
<circle cx="403.8" cy="301.8" r="2.70"/>
<circle cx="360.7" cy="305.8" r="2.70"/>
<circle cx="337.3" cy="310.8" r="2.70"/>
<circle cx="325.3" cy="319.3" r="2.70"/>
<circle cx="261.9" cy="346.0" r="2.70"/>
<circle cx="284.4" cy="337.6" r="2.70"/>
<circle cx="293.4" cy="348.4" r="2.70"/>
<circle cx="330.9" cy="364.0" r="2.70"/>
<circle cx="332.1" cy="374.8" r="2.70"/>
<circle cx="372.6" cy="396.1" r="2.70"/>
<circle cx="381.3" cy="391.3" r="2.70"/>
<circle cx="487.3" cy="90.5" r="2.70"/>
<circle cx="464.5" cy="97.8" r="2.70"/>
<circle cx="465.7" cy="104.2" r="2.70"/>
<circle cx="489.7" cy="103.8" r="2.70"/>
<circle cx="491.8" cy="103.3" r="2.70"/>
<circle cx="445.8" cy="109.0" r="2.70"/>
<circle cx="470.8" cy="108.5" r="2.70"/>
<circle cx="473.2" cy="107.0" r="2.70"/>
<circle cx="464.5" cy="113.2" r="2.70"/>
<circle cx="465.7" cy="115.3" r="2.70"/>
<circle cx="491.9" cy="114.7" r="2.70"/>
<circle cx="485.2" cy="122.2" r="2.70"/>
<circle cx="475.4" cy="124.5" r="2.70"/>
<circle cx="465.7" cy="126.7" r="2.70"/>
<circle cx="487.8" cy="134.5" r="2.70"/>
<circle cx="490.0" cy="137.5" r="2.70"/>
<circle cx="489.2" cy="140.8" r="2.70"/>
<circle cx="471.7" cy="139.0" r="2.70"/>
<circle cx="464.9" cy="141.2" r="2.70"/>
<circle cx="465.7" cy="144.6" r="2.70"/>
<circle cx="469.8" cy="149.5" r="2.70"/>
<circle cx="477.2" cy="149.5" r="2.70"/>
<circle cx="484.0" cy="148.0" r="2.70"/>
<circle cx="486.2" cy="150.2" r="2.70"/>
<circle cx="514.8" cy="131.3" r="2.70"/>
<circle cx="523.2" cy="128.7" r="2.70"/>
<circle cx="533.6" cy="141.4" r="2.70"/>
<circle cx="544.8" cy="138.2" r="2.70"/>
<circle cx="464.8" cy="151.8" r="2.70"/>
<circle cx="465.2" cy="155.5" r="2.70"/>
<circle cx="464.5" cy="160.0" r="2.70"/>
<circle cx="465.2" cy="164.5" r="2.70"/>
<circle cx="464.8" cy="169.0" r="2.70"/>
<circle cx="465.2" cy="173.5" r="2.70"/>
<circle cx="464.8" cy="178.0" r="2.70"/>
<circle cx="465.2" cy="182.5" r="2.70"/>
<circle cx="464.8" cy="187.0" r="2.70"/>
<circle cx="465.2" cy="191.5" r="2.70"/>
<circle cx="464.5" cy="196.0" r="2.70"/>
<circle cx="465.2" cy="200.5" r="2.70"/>
<circle cx="464.8" cy="205.0" r="2.70"/>
<circle cx="464.5" cy="209.5" r="2.70"/>
<circle cx="461.5" cy="166.0" r="2.70"/>
<circle cx="467.5" cy="164.5" r="2.70"/>
<circle cx="469.8" cy="176.5" r="2.70"/>
<circle cx="460.8" cy="186.2" r="2.70"/>
<circle cx="466.8" cy="187.8" r="2.70"/>
<circle cx="461.5" cy="191.5" r="2.70"/>
<circle cx="467.5" cy="191.5" r="2.70"/>
<circle cx="461.2" cy="201.2" r="2.70"/>
<circle cx="484.0" cy="155.5" r="2.70"/>
<circle cx="486.2" cy="155.5" r="2.70"/>
<circle cx="491.5" cy="157.0" r="2.70"/>
<circle cx="495.2" cy="159.2" r="2.70"/>
<circle cx="497.5" cy="160.8" r="2.70"/>
<circle cx="503.8" cy="159.0" r="2.70"/>
<circle cx="475.0" cy="165.2" r="2.70"/>
<circle cx="486.2" cy="166.8" r="2.70"/>
<circle cx="485.5" cy="170.5" r="2.70"/>
<circle cx="490.8" cy="169.8" r="2.70"/>
<circle cx="492.2" cy="172.8" r="2.70"/>
<circle cx="491.5" cy="175.8" r="2.70"/>
<circle cx="497.5" cy="167.8" r="2.70"/>
<circle cx="495.7" cy="172.0" r="2.70"/>
<circle cx="478.8" cy="176.0" r="2.70"/>
<circle cx="486.2" cy="177.7" r="2.70"/>
<circle cx="496.8" cy="178.0" r="2.70"/>
<circle cx="477.2" cy="185.5" r="2.70"/>
<circle cx="481.0" cy="184.8" r="2.70"/>
<circle cx="484.0" cy="184.0" r="2.70"/>
<circle cx="483.2" cy="188.5" r="2.70"/>
<circle cx="484.8" cy="190.0" r="2.70"/>
<circle cx="489.2" cy="185.5" r="2.70"/>
<circle cx="492.2" cy="189.2" r="2.70"/>
<circle cx="499.8" cy="187.0" r="2.70"/>
<circle cx="501.2" cy="186.2" r="2.70"/>
<circle cx="500.5" cy="191.5" r="2.70"/>
<circle cx="502.8" cy="192.2" r="2.70"/>
<circle cx="486.2" cy="194.5" r="2.70"/>
<circle cx="490.0" cy="194.5" r="2.70"/>
<circle cx="487.8" cy="198.2" r="2.70"/>
<circle cx="491.5" cy="197.5" r="2.70"/>
<circle cx="486.2" cy="201.2" r="2.70"/>
<circle cx="490.0" cy="202.0" r="2.70"/>
<circle cx="488.5" cy="205.0" r="2.70"/>
<circle cx="491.5" cy="206.5" r="2.70"/>
<circle cx="485.5" cy="208.0" r="2.70"/>
<circle cx="488.5" cy="209.5" r="2.70"/>
<circle cx="493.0" cy="209.5" r="2.70"/>
<circle cx="497.5" cy="201.7" r="2.70"/>
<circle cx="481.0" cy="205.0" r="2.70"/>
<circle cx="478.0" cy="208.0" r="2.70"/>
<circle cx="500.5" cy="209.5" r="2.70"/>
<circle cx="436.8" cy="163.0" r="2.70"/>
<circle cx="442.0" cy="167.1" r="2.70"/>
<circle cx="437.9" cy="170.5" r="2.70"/>
<circle cx="433.4" cy="180.6" r="2.70"/>
<circle cx="454.0" cy="183.7" r="2.70"/>
<circle cx="454.8" cy="185.8" r="2.70"/>
<circle cx="444.2" cy="193.0" r="2.70"/>
<circle cx="431.5" cy="200.1" r="2.70"/>
<circle cx="439.0" cy="203.2" r="2.70"/>
<circle cx="451.3" cy="200.8" r="2.70"/>
<circle cx="432.2" cy="207.2" r="2.70"/>
<circle cx="523.2" cy="158.5" r="2.70"/>
<circle cx="531.3" cy="158.5" r="2.70"/>
<circle cx="522.1" cy="164.9" r="2.70"/>
<circle cx="527.8" cy="166.2" r="2.70"/>
<circle cx="524.4" cy="170.3" r="2.70"/>
<circle cx="522.1" cy="172.3" r="2.70"/>
<circle cx="528.7" cy="177.7" r="2.70"/>
<circle cx="523.6" cy="180.6" r="2.70"/>
<circle cx="538.2" cy="181.8" r="2.70"/>
<circle cx="549.4" cy="164.9" r="2.70"/>
<circle cx="561.5" cy="169.2" r="2.70"/>
<circle cx="573.5" cy="160.7" r="2.70"/>
<circle cx="572.0" cy="172.6" r="2.70"/>
<circle cx="548.2" cy="179.5" r="2.70"/>
<circle cx="550.5" cy="181.3" r="2.70"/>
<circle cx="557.1" cy="180.6" r="2.70"/>
<circle cx="590.0" cy="180.8" r="2.70"/>
<circle cx="593.7" cy="185.7" r="2.70"/>
<circle cx="526.4" cy="189.8" r="2.70"/>
<circle cx="531.6" cy="192.6" r="2.70"/>
<circle cx="538.2" cy="189.0" r="2.70"/>
<circle cx="515.5" cy="193.5" r="2.70"/>
<circle cx="560.9" cy="199.8" r="2.70"/>
<circle cx="557.1" cy="203.8" r="2.70"/>
<circle cx="531.8" cy="208.2" r="2.70"/>
<circle cx="537.1" cy="207.1" r="2.70"/>
<circle cx="559.7" cy="208.3" r="2.70"/>
<circle cx="583.5" cy="210.0" r="2.70"/>
<circle cx="508.3" cy="211.0" r="2.70"/>
<circle cx="464.4" cy="213.5" r="2.70"/>
<circle cx="465.0" cy="217.7" r="2.70"/>
<circle cx="465.6" cy="221.9" r="2.70"/>
<circle cx="464.4" cy="226.1" r="2.70"/>
<circle cx="465.0" cy="230.3" r="2.70"/>
<circle cx="465.6" cy="234.5" r="2.70"/>
<circle cx="464.4" cy="238.7" r="2.70"/>
<circle cx="465.0" cy="242.9" r="2.70"/>
<circle cx="465.6" cy="247.1" r="2.70"/>
<circle cx="464.4" cy="251.3" r="2.70"/>
<circle cx="465.0" cy="255.5" r="2.70"/>
<circle cx="465.6" cy="259.7" r="2.70"/>
<circle cx="464.4" cy="263.9" r="2.70"/>
<circle cx="465.0" cy="268.1" r="2.70"/>
<circle cx="455.2" cy="211.8" r="2.70"/>
<circle cx="433.0" cy="214.0" r="2.70"/>
<circle cx="435.2" cy="216.7" r="2.70"/>
<circle cx="476.5" cy="207.2" r="2.70"/>
<circle cx="478.0" cy="215.5" r="2.70"/>
<circle cx="482.5" cy="206.5" r="2.70"/>
<circle cx="484.8" cy="209.5" r="2.70"/>
<circle cx="487.8" cy="208.0" r="2.70"/>
<circle cx="494.5" cy="208.0" r="2.70"/>
<circle cx="506.5" cy="211.8" r="2.70"/>
<circle cx="440.5" cy="220.0" r="2.70"/>
<circle cx="444.2" cy="220.8" r="2.70"/>
<circle cx="440.5" cy="224.2" r="2.70"/>
<circle cx="448.0" cy="226.0" r="2.70"/>
<circle cx="451.8" cy="224.2" r="2.70"/>
<circle cx="457.8" cy="221.2" r="2.70"/>
<circle cx="431.5" cy="226.0" r="2.70"/>
<circle cx="432.2" cy="231.2" r="2.70"/>
<circle cx="475.0" cy="224.5" r="2.70"/>
<circle cx="478.0" cy="224.5" r="2.70"/>
<circle cx="481.0" cy="226.8" r="2.70"/>
<circle cx="484.0" cy="227.5" r="2.70"/>
<circle cx="487.0" cy="224.5" r="2.70"/>
<circle cx="488.5" cy="220.0" r="2.70"/>
<circle cx="491.5" cy="219.2" r="2.70"/>
<circle cx="496.0" cy="220.0" r="2.70"/>
<circle cx="484.8" cy="218.5" r="2.70"/>
<circle cx="487.0" cy="221.5" r="2.70"/>
<circle cx="489.2" cy="229.8" r="2.70"/>
<circle cx="492.2" cy="231.2" r="2.70"/>
<circle cx="474.7" cy="230.5" r="2.70"/>
<circle cx="499.0" cy="232.0" r="2.70"/>
<circle cx="506.2" cy="229.8" r="2.70"/>
<circle cx="468.2" cy="232.0" r="2.70"/>
<circle cx="460.0" cy="235.8" r="2.70"/>
<circle cx="433.0" cy="236.5" r="2.70"/>
<circle cx="435.7" cy="238.3" r="2.70"/>
<circle cx="479.5" cy="236.5" r="2.70"/>
<circle cx="480.2" cy="239.2" r="2.70"/>
<circle cx="494.5" cy="236.5" r="2.70"/>
<circle cx="496.0" cy="238.3" r="2.70"/>
<circle cx="487.0" cy="240.2" r="2.70"/>
<circle cx="484.8" cy="242.5" r="2.70"/>
<circle cx="484.0" cy="246.2" r="2.70"/>
<circle cx="486.2" cy="244.8" r="2.70"/>
<circle cx="488.5" cy="244.0" r="2.70"/>
<circle cx="491.5" cy="241.8" r="2.70"/>
<circle cx="492.2" cy="245.5" r="2.70"/>
<circle cx="469.0" cy="239.5" r="2.70"/>
<circle cx="431.8" cy="245.2" r="2.70"/>
<circle cx="448.0" cy="246.6" r="2.70"/>
<circle cx="472.8" cy="247.8" r="2.70"/>
<circle cx="506.5" cy="244.8" r="2.70"/>
<circle cx="484.0" cy="248.5" r="2.70"/>
<circle cx="486.2" cy="251.5" r="2.70"/>
<circle cx="482.5" cy="253.8" r="2.70"/>
<circle cx="484.0" cy="256.0" r="2.70"/>
<circle cx="436.0" cy="252.7" r="2.70"/>
<circle cx="437.5" cy="254.5" r="2.70"/>
<circle cx="443.2" cy="255.2" r="2.70"/>
<circle cx="467.5" cy="254.5" r="2.70"/>
<circle cx="492.2" cy="255.7" r="2.70"/>
<circle cx="452.5" cy="260.5" r="2.70"/>
<circle cx="455.5" cy="259.0" r="2.70"/>
<circle cx="456.2" cy="261.2" r="2.70"/>
<circle cx="470.5" cy="260.5" r="2.70"/>
<circle cx="472.8" cy="259.0" r="2.70"/>
<circle cx="472.0" cy="262.8" r="2.70"/>
<circle cx="473.5" cy="264.7" r="2.70"/>
<circle cx="484.0" cy="260.2" r="2.70"/>
<circle cx="432.2" cy="261.7" r="2.70"/>
<circle cx="506.5" cy="263.5" r="2.70"/>
<circle cx="482.5" cy="268.8" r="2.70"/>
<circle cx="487.8" cy="267.7" r="2.70"/>
<circle cx="491.5" cy="269.5" r="2.70"/>
<circle cx="520.1" cy="212.3" r="2.70"/>
<circle cx="534.8" cy="220.8" r="2.70"/>
<circle cx="544.4" cy="221.1" r="2.70"/>
<circle cx="542.8" cy="224.2" r="2.70"/>
<circle cx="546.6" cy="223.1" r="2.70"/>
<circle cx="550.2" cy="221.9" r="2.70"/>
<circle cx="533.6" cy="226.2" r="2.70"/>
<circle cx="535.9" cy="228.8" r="2.70"/>
<circle cx="554.8" cy="224.9" r="2.70"/>
<circle cx="561.2" cy="220.0" r="2.70"/>
<circle cx="558.5" cy="228.8" r="2.70"/>
<circle cx="564.6" cy="226.5" r="2.70"/>
<circle cx="576.5" cy="217.6" r="2.70"/>
<circle cx="585.5" cy="220.8" r="2.70"/>
<circle cx="593.4" cy="225.7" r="2.70"/>
<circle cx="520.1" cy="231.4" r="2.70"/>
<circle cx="544.8" cy="233.1" r="2.70"/>
<circle cx="550.2" cy="232.9" r="2.70"/>
<circle cx="562.5" cy="234.4" r="2.70"/>
<circle cx="530.1" cy="236.8" r="2.70"/>
<circle cx="580.4" cy="238.0" r="2.70"/>
<circle cx="588.0" cy="234.2" r="2.70"/>
<circle cx="592.6" cy="232.9" r="2.70"/>
<circle cx="595.7" cy="243.3" r="2.70"/>
<circle cx="516.8" cy="242.9" r="2.70"/>
<circle cx="558.6" cy="251.0" r="2.70"/>
<circle cx="512.5" cy="254.6" r="2.70"/>
<circle cx="537.5" cy="266.8" r="2.70"/>
<circle cx="544.8" cy="266.1" r="2.70"/>
<circle cx="578.9" cy="270.0" r="2.70"/>
<circle cx="465.7" cy="266.5" r="2.70"/>
<circle cx="465.7" cy="272.5" r="2.70"/>
<circle cx="464.8" cy="275.5" r="2.70"/>
<circle cx="464.5" cy="278.5" r="2.70"/>
<circle cx="464.5" cy="281.5" r="2.70"/>
<circle cx="464.8" cy="285.2" r="2.70"/>
<circle cx="465.7" cy="296.2" r="2.70"/>
<circle cx="465.7" cy="300.6" r="2.70"/>
<circle cx="464.8" cy="305.2" r="2.70"/>
<circle cx="434.5" cy="272.2" r="2.70"/>
<circle cx="452.8" cy="274.3" r="2.70"/>
<circle cx="431.1" cy="287.9" r="2.70"/>
<circle cx="492.2" cy="271.0" r="2.70"/>
<circle cx="486.2" cy="274.0" r="2.70"/>
<circle cx="488.5" cy="273.2" r="2.70"/>
<circle cx="490.0" cy="276.2" r="2.70"/>
<circle cx="485.5" cy="277.8" r="2.70"/>
<circle cx="487.0" cy="279.2" r="2.70"/>
<circle cx="491.5" cy="278.8" r="2.70"/>
<circle cx="485.5" cy="282.7" r="2.70"/>
<circle cx="487.3" cy="290.8" r="2.70"/>
<circle cx="487.3" cy="310.8" r="2.70"/>
<circle cx="483.2" cy="320.5" r="2.70"/>
<circle cx="491.2" cy="321.2" r="2.70"/>
<circle cx="512.6" cy="278.5" r="2.70"/>
<circle cx="574.0" cy="271.9" r="2.70"/>
<circle cx="590.0" cy="299.5" r="2.70"/>
<circle cx="575.8" cy="319.1" r="2.70"/>
<circle cx="439.6" cy="337.6" r="2.70"/>
<circle cx="464.5" cy="346.0" r="2.70"/>
<circle cx="478.9" cy="348.4" r="2.70"/>
<circle cx="433.6" cy="391.0" r="2.70"/>
<circle cx="430.6" cy="396.1" r="2.70"/>
<circle cx="48.6" cy="147.1" r="2.70"/>
<circle cx="52.4" cy="146.6" r="2.70"/>
<circle cx="56.3" cy="146.7" r="2.70"/>
<circle cx="56.9" cy="145.9" r="2.70"/>
<circle cx="49.7" cy="150.3" r="2.70"/>
<circle cx="53.6" cy="150.5" r="2.70"/>
<circle cx="58.3" cy="150.0" r="2.70"/>
<circle cx="57.3" cy="149.1" r="2.70"/>
<circle cx="47.9" cy="152.8" r="2.70"/>
<circle cx="51.7" cy="153.1" r="2.70"/>
<circle cx="56.8" cy="153.2" r="2.70"/>
<circle cx="60.2" cy="153.2" r="2.70"/>
<circle cx="50.2" cy="156.2" r="2.70"/>
<circle cx="54.9" cy="157.0" r="2.70"/>
<circle cx="57.8" cy="156.2" r="2.70"/>
<circle cx="61.1" cy="155.9" r="2.70"/>
<circle cx="48.4" cy="160.4" r="2.70"/>
<circle cx="53.0" cy="160.4" r="2.70"/>
<circle cx="60.8" cy="159.9" r="2.70"/>
<circle cx="63.5" cy="159.7" r="2.70"/>
<circle cx="54.6" cy="162.9" r="2.70"/>
<circle cx="62.6" cy="163.6" r="2.70"/>
<circle cx="63.8" cy="162.8" r="2.70"/>
<circle cx="55.8" cy="166.7" r="2.70"/>
<circle cx="59.8" cy="166.9" r="2.70"/>
<circle cx="67.8" cy="166.0" r="2.70"/>
<circle cx="49.9" cy="169.6" r="2.70"/>
<circle cx="54.6" cy="169.7" r="2.70"/>
<circle cx="57.7" cy="169.8" r="2.70"/>
<circle cx="62.2" cy="169.4" r="2.70"/>
<circle cx="65.5" cy="169.6" r="2.70"/>
<circle cx="69.6" cy="169.7" r="2.70"/>
<circle cx="70.7" cy="169.3" r="2.70"/>
<circle cx="48.1" cy="173.4" r="2.70"/>
<circle cx="52.3" cy="173.9" r="2.70"/>
<circle cx="56.4" cy="173.8" r="2.70"/>
<circle cx="59.7" cy="173.9" r="2.70"/>
<circle cx="63.7" cy="172.9" r="2.70"/>
<circle cx="68.6" cy="172.9" r="2.70"/>
<circle cx="72.4" cy="173.4" r="2.70"/>
<circle cx="72.5" cy="172.7" r="2.70"/>
<circle cx="53.8" cy="176.9" r="2.70"/>
<circle cx="58.6" cy="176.8" r="2.70"/>
<circle cx="61.5" cy="177.0" r="2.70"/>
<circle cx="69.9" cy="177.1" r="2.70"/>
<circle cx="73.4" cy="177.2" r="2.70"/>
<circle cx="73.0" cy="175.9" r="2.70"/>
<circle cx="48.4" cy="179.4" r="2.70"/>
<circle cx="52.2" cy="180.1" r="2.70"/>
<circle cx="60.7" cy="180.7" r="2.70"/>
<circle cx="64.4" cy="180.1" r="2.70"/>
<circle cx="67.3" cy="179.3" r="2.70"/>
<circle cx="72.2" cy="180.6" r="2.70"/>
<circle cx="72.3" cy="180.2" r="2.70"/>
<circle cx="50.6" cy="183.1" r="2.70"/>
<circle cx="53.6" cy="183.4" r="2.70"/>
<circle cx="58.7" cy="183.7" r="2.70"/>
<circle cx="62.4" cy="183.9" r="2.70"/>
<circle cx="66.2" cy="183.9" r="2.70"/>
<circle cx="69.7" cy="183.8" r="2.70"/>
<circle cx="73.4" cy="183.5" r="2.70"/>
<circle cx="48.3" cy="186.8" r="2.70"/>
<circle cx="51.8" cy="186.9" r="2.70"/>
<circle cx="56.8" cy="187.0" r="2.70"/>
<circle cx="60.5" cy="186.8" r="2.70"/>
<circle cx="64.6" cy="186.1" r="2.70"/>
<circle cx="67.3" cy="186.8" r="2.70"/>
<circle cx="71.7" cy="186.3" r="2.70"/>
<circle cx="50.3" cy="190.2" r="2.70"/>
<circle cx="53.9" cy="189.4" r="2.70"/>
<circle cx="58.3" cy="189.6" r="2.70"/>
<circle cx="62.6" cy="190.3" r="2.70"/>
<circle cx="66.4" cy="189.8" r="2.70"/>
<circle cx="69.4" cy="190.0" r="2.70"/>
<circle cx="72.2" cy="190.7" r="2.70"/>
<circle cx="48.3" cy="193.5" r="2.70"/>
<circle cx="51.9" cy="193.4" r="2.70"/>
<circle cx="56.8" cy="193.7" r="2.70"/>
<circle cx="59.9" cy="192.9" r="2.70"/>
<circle cx="63.8" cy="193.0" r="2.70"/>
<circle cx="68.2" cy="193.4" r="2.70"/>
<circle cx="70.7" cy="193.9" r="2.70"/>
<circle cx="50.2" cy="196.2" r="2.70"/>
<circle cx="57.5" cy="197.0" r="2.70"/>
<circle cx="61.7" cy="197.2" r="2.70"/>
<circle cx="69.6" cy="196.0" r="2.70"/>
<circle cx="48.1" cy="199.6" r="2.70"/>
<circle cx="56.2" cy="200.3" r="2.70"/>
<circle cx="60.6" cy="200.7" r="2.70"/>
<circle cx="63.7" cy="200.1" r="2.70"/>
<circle cx="67.3" cy="200.1" r="2.70"/>
<circle cx="69.0" cy="199.6" r="2.70"/>
<circle cx="50.1" cy="203.7" r="2.70"/>
<circle cx="54.4" cy="203.8" r="2.70"/>
<circle cx="58.5" cy="204.0" r="2.70"/>
<circle cx="66.2" cy="202.9" r="2.70"/>
<circle cx="67.6" cy="203.7" r="2.70"/>
<circle cx="48.3" cy="206.9" r="2.70"/>
<circle cx="52.8" cy="207.4" r="2.70"/>
<circle cx="56.5" cy="206.4" r="2.70"/>
<circle cx="60.6" cy="207.0" r="2.70"/>
<circle cx="63.7" cy="207.4" r="2.70"/>
<circle cx="68.7" cy="206.9" r="2.70"/>
<circle cx="68.9" cy="206.5" r="2.70"/>
<circle cx="50.8" cy="209.9" r="2.70"/>
<circle cx="58.2" cy="210.5" r="2.70"/>
<circle cx="61.3" cy="210.6" r="2.70"/>
<circle cx="69.6" cy="209.6" r="2.70"/>
<circle cx="48.9" cy="213.0" r="2.70"/>
<circle cx="52.4" cy="213.8" r="2.70"/>
<circle cx="56.6" cy="214.1" r="2.70"/>
<circle cx="60.8" cy="212.9" r="2.70"/>
<circle cx="64.1" cy="213.2" r="2.70"/>
<circle cx="68.2" cy="213.5" r="2.70"/>
<circle cx="70.6" cy="213.6" r="2.70"/>
<circle cx="50.1" cy="217.3" r="2.70"/>
<circle cx="53.8" cy="217.3" r="2.70"/>
<circle cx="58.1" cy="217.0" r="2.70"/>
<circle cx="62.1" cy="216.9" r="2.70"/>
<circle cx="65.2" cy="217.5" r="2.70"/>
<circle cx="69.7" cy="217.3" r="2.70"/>
<circle cx="72.0" cy="216.8" r="2.70"/>
<circle cx="47.9" cy="220.3" r="2.70"/>
<circle cx="53.0" cy="220.8" r="2.70"/>
<circle cx="56.3" cy="219.7" r="2.70"/>
<circle cx="60.6" cy="220.8" r="2.70"/>
<circle cx="63.8" cy="219.8" r="2.70"/>
<circle cx="68.6" cy="219.7" r="2.70"/>
<circle cx="71.2" cy="219.8" r="2.70"/>
<circle cx="72.4" cy="220.5" r="2.70"/>
<circle cx="50.1" cy="223.7" r="2.70"/>
<circle cx="57.6" cy="223.6" r="2.70"/>
<circle cx="61.6" cy="223.6" r="2.70"/>
<circle cx="65.7" cy="223.4" r="2.70"/>
<circle cx="69.3" cy="223.1" r="2.70"/>
<circle cx="73.9" cy="223.6" r="2.70"/>
<circle cx="74.2" cy="223.7" r="2.70"/>
<circle cx="48.1" cy="227.2" r="2.70"/>
<circle cx="53.0" cy="226.6" r="2.70"/>
<circle cx="56.9" cy="226.5" r="2.70"/>
<circle cx="60.7" cy="226.4" r="2.70"/>
<circle cx="64.4" cy="226.6" r="2.70"/>
<circle cx="71.8" cy="227.3" r="2.70"/>
<circle cx="71.9" cy="226.7" r="2.70"/>
<circle cx="49.6" cy="229.8" r="2.70"/>
<circle cx="54.8" cy="230.9" r="2.70"/>
<circle cx="62.4" cy="230.3" r="2.70"/>
<circle cx="65.5" cy="229.6" r="2.70"/>
<circle cx="70.6" cy="230.3" r="2.70"/>
<circle cx="48.6" cy="233.1" r="2.70"/>
<circle cx="52.0" cy="234.1" r="2.70"/>
<circle cx="56.9" cy="233.0" r="2.70"/>
<circle cx="64.0" cy="234.0" r="2.70"/>
<circle cx="68.0" cy="233.6" r="2.70"/>
<circle cx="70.9" cy="233.8" r="2.70"/>
<circle cx="54.7" cy="236.5" r="2.70"/>
<circle cx="58.4" cy="236.8" r="2.70"/>
<circle cx="61.5" cy="237.0" r="2.70"/>
<circle cx="70.2" cy="237.2" r="2.70"/>
<circle cx="70.6" cy="237.2" r="2.70"/>
<circle cx="48.6" cy="240.3" r="2.70"/>
<circle cx="52.8" cy="240.0" r="2.70"/>
<circle cx="56.6" cy="240.7" r="2.70"/>
<circle cx="60.1" cy="240.9" r="2.70"/>
<circle cx="64.4" cy="240.7" r="2.70"/>
<circle cx="68.0" cy="240.1" r="2.70"/>
<circle cx="49.7" cy="243.4" r="2.70"/>
<circle cx="53.5" cy="243.4" r="2.70"/>
<circle cx="58.3" cy="243.3" r="2.70"/>
<circle cx="62.2" cy="243.4" r="2.70"/>
<circle cx="66.0" cy="243.7" r="2.70"/>
<circle cx="66.2" cy="244.4" r="2.70"/>
<circle cx="48.8" cy="247.4" r="2.70"/>
<circle cx="51.7" cy="247.2" r="2.70"/>
<circle cx="56.0" cy="246.9" r="2.70"/>
<circle cx="63.9" cy="246.4" r="2.70"/>
<circle cx="65.9" cy="247.6" r="2.70"/>
<circle cx="50.3" cy="251.0" r="2.70"/>
<circle cx="54.9" cy="250.5" r="2.70"/>
<circle cx="57.5" cy="250.5" r="2.70"/>
<circle cx="61.4" cy="251.0" r="2.70"/>
<circle cx="65.9" cy="249.9" r="2.70"/>
<circle cx="68.9" cy="250.5" r="2.70"/>
<circle cx="52.3" cy="253.7" r="2.70"/>
<circle cx="56.1" cy="253.4" r="2.70"/>
<circle cx="60.3" cy="253.4" r="2.70"/>
<circle cx="63.8" cy="253.0" r="2.70"/>
<circle cx="67.4" cy="253.2" r="2.70"/>
<circle cx="71.7" cy="254.3" r="2.70"/>
<circle cx="72.8" cy="253.0" r="2.70"/>
<circle cx="50.9" cy="256.5" r="2.70"/>
<circle cx="54.1" cy="257.0" r="2.70"/>
<circle cx="57.7" cy="257.1" r="2.70"/>
<circle cx="62.3" cy="257.0" r="2.70"/>
<circle cx="66.3" cy="257.2" r="2.70"/>
<circle cx="73.6" cy="256.6" r="2.70"/>
<circle cx="73.5" cy="257.1" r="2.70"/>
<circle cx="52.6" cy="260.3" r="2.70"/>
<circle cx="56.4" cy="260.3" r="2.70"/>
<circle cx="60.2" cy="261.1" r="2.70"/>
<circle cx="64.4" cy="260.0" r="2.70"/>
<circle cx="72.3" cy="260.6" r="2.70"/>
<circle cx="75.1" cy="260.0" r="2.70"/>
<circle cx="50.4" cy="263.9" r="2.70"/>
<circle cx="54.6" cy="263.3" r="2.70"/>
<circle cx="58.8" cy="264.3" r="2.70"/>
<circle cx="61.4" cy="263.1" r="2.70"/>
<circle cx="65.8" cy="263.9" r="2.70"/>
<circle cx="73.1" cy="263.2" r="2.70"/>
<circle cx="74.1" cy="263.8" r="2.70"/>
<circle cx="48.3" cy="267.1" r="2.70"/>
<circle cx="52.2" cy="267.4" r="2.70"/>
<circle cx="55.7" cy="266.6" r="2.70"/>
<circle cx="60.4" cy="267.5" r="2.70"/>
<circle cx="64.0" cy="266.8" r="2.70"/>
<circle cx="67.8" cy="267.3" r="2.70"/>
<circle cx="69.9" cy="266.8" r="2.70"/>
<circle cx="50.6" cy="271.0" r="2.70"/>
<circle cx="54.0" cy="269.9" r="2.70"/>
<circle cx="57.5" cy="269.9" r="2.70"/>
<circle cx="62.0" cy="270.7" r="2.70"/>
<circle cx="64.7" cy="270.9" r="2.70"/>
<circle cx="52.6" cy="273.2" r="2.70"/>
<circle cx="56.6" cy="274.1" r="2.70"/>
<circle cx="59.7" cy="273.6" r="2.70"/>
<circle cx="62.3" cy="273.6" r="2.70"/>
<circle cx="54.3" cy="277.7" r="2.70"/>
<circle cx="58.7" cy="277.1" r="2.70"/>
<circle cx="59.3" cy="276.8" r="2.70"/>
<circle cx="48.4" cy="281.1" r="2.70"/>
<circle cx="52.0" cy="280.3" r="2.70"/>
<circle cx="56.1" cy="280.4" r="2.70"/>
<circle cx="56.1" cy="280.0" r="2.70"/>
<circle cx="50.7" cy="283.9" r="2.70"/>
<circle cx="54.3" cy="283.4" r="2.70"/>
<circle cx="55.2" cy="284.5" r="2.70"/>
<circle cx="47.8" cy="287.2" r="2.70"/>
<circle cx="52.5" cy="287.9" r="2.70"/>
<circle cx="54.4" cy="287.7" r="2.70"/>
<circle cx="53.6" cy="291.0" r="2.70"/>
<circle cx="53.3" cy="294.5" r="2.70"/>
<circle cx="50.6" cy="296.7" r="2.70"/>
</g>
<g fill="none" stroke="#474747" stroke-width="1.2">
<rect x="50.3" y="25.3" width="177.6" height="381.0"/>
<rect x="234.6" y="25.3" width="177.6" height="381.0"/>
<rect x="418.7" y="25.3" width="177.6" height="381.0"/>
<path d="M50.3 368.2h3.5M227.9 368.2h-3.5"/>
<path d="M50.3 330.1h3.5M227.9 330.1h-3.5"/>
<path d="M50.3 292.0h3.5M227.9 292.0h-3.5"/>
<path d="M50.3 253.9h3.5M227.9 253.9h-3.5"/>
<path d="M50.3 215.8h3.5M227.9 215.8h-3.5"/>
<path d="M50.3 177.7h3.5M227.9 177.7h-3.5"/>
<path d="M50.3 139.6h3.5M227.9 139.6h-3.5"/>
<path d="M50.3 101.5h3.5M227.9 101.5h-3.5"/>
<path d="M50.3 63.4h3.5M227.9 63.4h-3.5"/>
<path d="M234.6 368.2h3.5M412.2 368.2h-3.5"/>
<path d="M234.6 330.1h3.5M412.2 330.1h-3.5"/>
<path d="M234.6 292.0h3.5M412.2 292.0h-3.5"/>
<path d="M234.6 253.9h3.5M412.2 253.9h-3.5"/>
<path d="M234.6 215.8h3.5M412.2 215.8h-3.5"/>
<path d="M234.6 177.7h3.5M412.2 177.7h-3.5"/>
<path d="M234.6 139.6h3.5M412.2 139.6h-3.5"/>
<path d="M234.6 101.5h3.5M412.2 101.5h-3.5"/>
<path d="M234.6 63.4h3.5M412.2 63.4h-3.5"/>
<path d="M418.7 368.2h3.5M596.3 368.2h-3.5"/>
<path d="M418.7 330.1h3.5M596.3 330.1h-3.5"/>
<path d="M418.7 292.0h3.5M596.3 292.0h-3.5"/>
<path d="M418.7 253.9h3.5M596.3 253.9h-3.5"/>
<path d="M418.7 215.8h3.5M596.3 215.8h-3.5"/>
<path d="M418.7 177.7h3.5M596.3 177.7h-3.5"/>
<path d="M418.7 139.6h3.5M596.3 139.6h-3.5"/>
<path d="M418.7 101.5h3.5M596.3 101.5h-3.5"/>
<path d="M418.7 63.4h3.5M596.3 63.4h-3.5"/>
<path d="M89.8 406.3v-3.5M89.8 25.3v3.5"/>
<path d="M129.2 406.3v-3.5M129.2 25.3v3.5"/>
<path d="M168.7 406.3v-3.5M168.7 25.3v3.5"/>
<path d="M208.2 406.3v-3.5M208.2 25.3v3.5"/>
<path d="M283.9 406.3v-3.5M283.9 25.3v3.5"/>
<path d="M333.3 406.3v-3.5M333.3 25.3v3.5"/>
<path d="M382.6 406.3v-3.5M382.6 25.3v3.5"/>
<path d="M445.3 406.3v-3.5M445.3 25.3v3.5"/>
<path d="M489.7 406.3v-3.5M489.7 25.3v3.5"/>
<path d="M534.1 406.3v-3.5M534.1 25.3v3.5"/>
<path d="M578.5 406.3v-3.5M578.5 25.3v3.5"/>
</g>
<g fill="none" stroke="#000" stroke-width="2" stroke-linejoin="round">
<path d="M50.3 213.7 L70.0 213.7 L70.0 206.5 L89.8 206.5 L89.8 215.2 L109.5 215.2 L109.5 220.4 L129.2 220.4 L129.2 238.7 L149.0 238.7 L149.0 241.9 L168.7 241.9 L168.7 238.3 L188.4 238.3 L188.4 247.4 L208.2 247.4 L208.2 244.0 L227.9 244.0"/>
<path d="M234.6 213.7 L254.3 213.7 L254.3 216.9 L274.1 216.9 L274.1 222.5 L293.8 222.5 L293.8 212.0 L313.5 212.0 L313.5 224.4 L333.3 224.4 L333.3 229.9 L353.0 229.9 L353.0 204.8 L372.7 204.8 L372.7 212.6 L392.5 212.6 L392.5 208.4 L412.2 208.4"/>
<path d="M418.7 216.7H596.3"/>
</g>
<g font-size="12.6" text-anchor="end">
<text x="46.8" y="411.9">0</text>
<text x="46.8" y="373.8">0.2</text>
<text x="46.8" y="335.7">0.4</text>
<text x="46.8" y="297.6">0.6</text>
<text x="46.8" y="259.5">0.8</text>
<text x="46.8" y="221.4">1</text>
<text x="46.8" y="183.3">1.2</text>
<text x="46.8" y="145.2">1.4</text>
<text x="46.8" y="107.1">1.6</text>
<text x="46.8" y="69.0">1.8</text>
<text x="46.8" y="30.9">2</text>
</g>
<g font-size="12.6" text-anchor="middle">
<text x="50.3" y="422.6">0</text>
<text x="89.8" y="422.6">20</text>
<text x="129.2" y="422.6">40</text>
<text x="168.7" y="422.6">60</text>
<text x="208.2" y="422.6">80</text>
<text x="234.6" y="422.6">0</text>
<text x="283.9" y="422.6">50</text>
<text x="333.3" y="422.6">100</text>
<text x="382.6" y="422.6">150</text>
<text x="445.3" y="422.6">0.5</text>
<text x="489.7" y="422.6">1</text>
<text x="534.1" y="422.6">1.5</text>
<text x="578.5" y="422.6">2</text>
</g>
<g font-size="15.3">
<text x="106" y="438.2" textLength="65" lengthAdjust="spacingAndGlyphs">|<tspan font-family="Liberation Serif">&#916;&#923;</tspan>| (deg)</text>
<text x="290" y="438.2" textLength="66" lengthAdjust="spacingAndGlyphs">|<tspan font-family="Liberation Serif">&#916;&#934;</tspan>| (deg)</text>
<text x="487.3" y="438.2">r (AU)</text>
</g>
<g font-size="16">
<text x="57" y="15.3" textLength="18.6" lengthAdjust="spacingAndGlyphs">(a)</text>
<text x="242.2" y="18.0" textLength="18.2" lengthAdjust="spacingAndGlyphs">(b)</text>
<text x="424.5" y="15.5" textLength="17.2" lengthAdjust="spacingAndGlyphs">(c)</text>
<text x="300.5" y="13.3" font-size="15" textLength="50.3" lengthAdjust="spacingAndGlyphs">r &#8804; 6AU</text>
</g>
<g transform="translate(13.2,264.5) rotate(-90) scale(0.95,1)"><text font-size="15.5" x="0" y="0">C(r) &#183; F<tspan font-size="12" dy="8">Sr</tspan><tspan dy="-8" dx="1.5">/F</tspan><tspan font-size="12" dy="8">S1</tspan></text></g>
</svg></body></html>
